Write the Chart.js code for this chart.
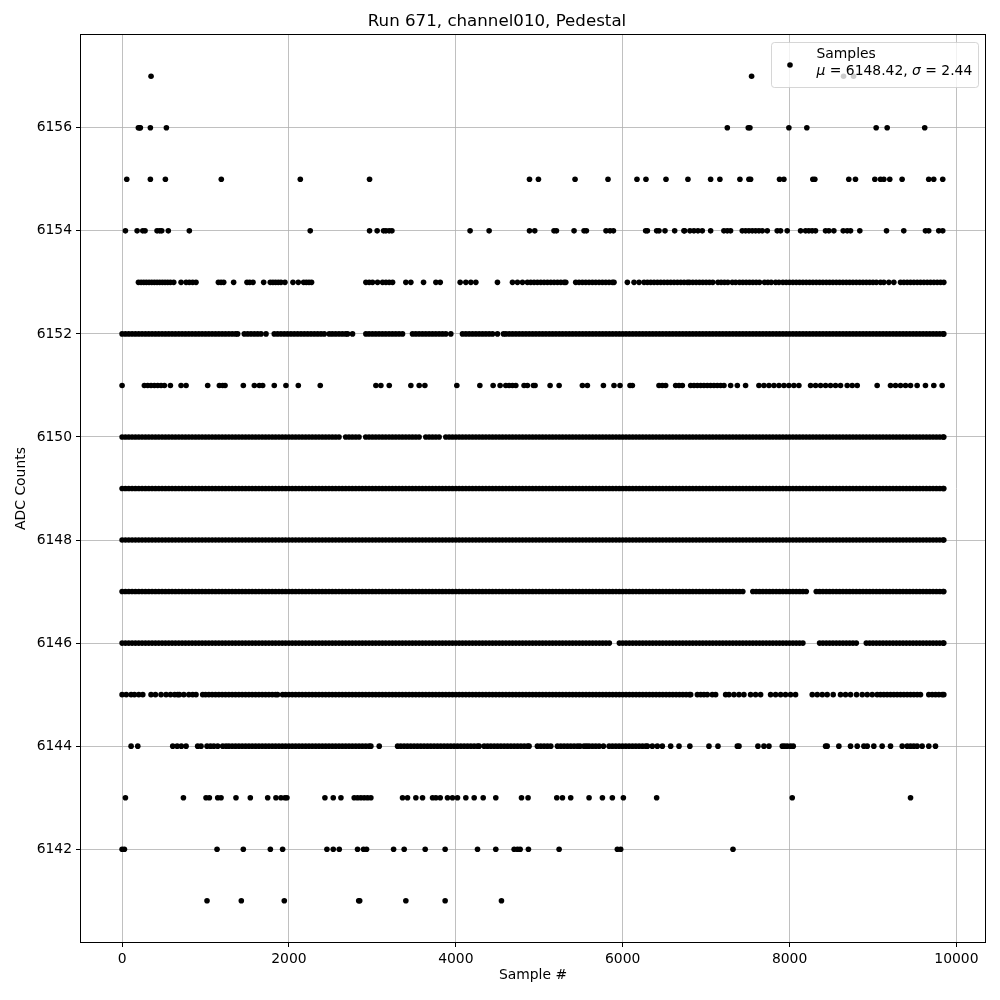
<!DOCTYPE html>
<html>
<head>
<meta charset="utf-8">
<script src="https://cdn.jsdelivr.net/npm/chart.js@4"></script>
<style>
  html, body { margin: 0; padding: 0; background: #fff; }
  #plot { display: block; }
</style>
</head>
<body>
<canvas id="plot" width="1000" height="1000" style="width:1000px;height:1000px"></canvas>
<script>
const title = 'Run 671, channel010, Pedestal'
const xTitle = 'Sample #'
const yTitle = 'ADC Counts'
const xTicks = [0, 2000, 4000, 6000, 8000, 10000]
const yTicks = [6142, 6144, 6146, 6148, 6150, 6152, 6154, 6156]
const legendName = 'Samples'
const muValue = '6148.42'
const sigmaValue = '2.44'

// sample numbers where a dot shows on each ADC level
const adc6157 = [347, 7545, 8647, 8767]
const adc6156 = [195, 210, 219, 339, 531, 7254, 7505, 7525, 7992, 8207, 9038, 9170, 9620]
const adc6155 = [56, 339, 519, 1189, 2136, 2966, 4883, 4990, 5429, 5824, 6171, 6279, 6519, 6782, 7054, 7165, 7405, 7513, 7533, 7880, 7932, 8279, 8303, 8710, 8790, 9022, 9090, 9130, 9201, 9349, 9668, 9728, 9836]
const adc6154 = [40, 180, 248, 275, 419, 451, 475, 554, 806, 2255, 2966, 3057, 3134, 3162, 3201, 3234, 4171, 4399, 4883, 4946, 5177, 5206, 5417, 5537, 5565, 5800, 5848, 5889, 6275, 6296, 6407, 6435, 6507, 6623, 6734, 6742, 6806, 6854, 6902, 6954, 7054, 7213, 7254, 7293, 7433, 7473, 7513, 7553, 7593, 7633, 7673, 7733, 7852, 7892, 7972, 8132, 8192, 8231, 8271, 8311, 8431, 8471, 8531, 8643, 8691, 8731, 8842, 9162, 9369, 9629, 9668, 9788, 9836]
const adc6153 = [196, 228, 260, 291, 323, 355, 387, 419, 451, 483, 515, 547, 579, 619, 707, 767, 806, 846, 886, 1154, 1186, 1218, 1337, 1497, 1529, 1569, 1697, 1776, 1808, 1840, 1872, 1904, 1952, 2048, 2112, 2176, 2208, 2240, 2271, 2922, 2962, 3002, 3062, 3122, 3162, 3202, 3242,
  3401, 3461, 3613, 3761, 3813, 4052, 4120, 4180, 4240, 4499, 4679, 4739, 4799, 4858, 4898, 4938, 4978, 5018, 5058, 5098, 5138, 5178, 5218, 5258, 5298, 5318,
  5437, 5477, 5517, 5557, 5597, 5637, 5677, 5717, 5757, 5797, 5837, 5877, 5896, 6056, 6136, 6196, 6256, 6296, 6336, 6376, 6416, 6456, 6496, 6536, 6576, 6616, 6656, 6696, 6736, 6776,
  6800, 6840, 6880, 6920, 6960, 7000, 7040, 7080, 7142, 7180, 7220, 7260, 7314, 7354, 7400, 7440, 7480, 7520, 7560, 7600, 7640, 7700, 7740, 7780, 7833,
  7873, 7920, 7960, 8000, 8040, 8080, 8120, 8160, 8200, 8240, 8280, 8320, 8360, 8400, 8440, 8480, 8520, 8560, 8600, 8640, 8680, 8720, 8760, 8800, 8840, 8880, 8920, 8960, 9000, 9040, 9090,
  9130, 9190, 9250, 9330, 9370, 9410, 9450, 9490, 9530, 9570, 9610, 9650, 9690, 9730, 9770, 9810, 9849]
const adc6152 = [0, 40, 80, 120, 160, 200, 240, 280, 320, 360, 400, 440, 480, 520, 560, 600, 640, 680, 720, 760, 800, 840, 880, 920, 960,
  1000, 1040, 1080, 1120, 1160, 1200, 1240, 1280, 1320, 1360, 1385, 1465, 1505, 1545, 1585, 1625, 1665, 1725, 1824, 1864, 1904, 1944, 1984,
  2024, 2064, 2104, 2144, 2184, 2224, 2264, 2304, 2344, 2384, 2423, 2483, 2520, 2560, 2600, 2640, 2680, 2703, 2762, 2922, 2960,
  3000, 3040, 3080, 3120, 3160, 3200, 3240, 3280, 3320, 3361, 3481, 3520, 3560, 3600, 3640, 3680, 3720, 3760, 3800, 3840, 3880, 3940,
  4080, 4120, 4160, 4200, 4240, 4280, 4320, 4360, 4400, 4440, 4499, 4571, 4600, 4640, 4680, 4720, 4760, 4800, 4840, 4880, 4920, 4960,
  5000, 5040, 5080, 5120, 5160, 5200, 5240, 5280, 5320, 5360, 5400, 5440, 5480, 5520, 5560, 5600, 5640, 5680, 5720, 5760, 5800, 5840, 5880, 5920, 5960,
  6000, 6040, 6080, 6120, 6160, 6200, 6240, 6280, 6320, 6360, 6400, 6440, 6480, 6520, 6560, 6600, 6640, 6680, 6720, 6760, 6800, 6840, 6880, 6920, 6960,
  7000, 7040, 7080, 7120, 7160, 7200, 7240, 7280, 7320, 7360, 7400, 7440, 7480, 7520, 7560, 7600, 7640, 7680, 7720, 7760, 7800, 7840, 7880, 7920, 7960,
  8000, 8040, 8080, 8120, 8160, 8200, 8240, 8280, 8320, 8360, 8400, 8440, 8480, 8520, 8560, 8600, 8640, 8680, 8720, 8760, 8800, 8840, 8880, 8920, 8960,
  9000, 9040, 9080, 9120, 9160, 9200, 9240, 9280, 9320, 9360, 9400, 9440, 9480, 9520, 9560, 9600, 9640, 9680, 9720, 9760, 9800, 9840, 9849]
const adc6151 = [0, 267, 307, 347, 387, 427, 467, 507, 579, 707, 767, 1026, 1166, 1206, 1234, 1453, 1585, 1645, 1685, 1824, 1964, 2112, 2375, 3042, 3102, 3202, 3461, 3561, 3629, 4012, 4288, 4447, 4531, 4599, 4639, 4679, 4719, 4818, 4858, 4930, 4950, 5130, 5238, 5517, 5577, 5769, 5896, 5968, 6088, 6116, 6435, 6475, 6515, 6635, 6675, 6715,
  6815, 6855, 6895, 6935, 6974, 7014, 7054, 7094, 7134, 7174, 7214, 7294, 7374, 7473, 7633, 7693, 7753, 7813, 7873, 7933, 7992, 8052, 8112, 8252, 8312, 8372, 8432, 8491, 8551, 8611, 8691, 8751, 8811, 9050, 9210, 9270, 9330, 9390, 9450, 9529, 9629, 9729, 9829]
const adc6150 = [0, 40, 80, 120, 160, 200, 240, 280, 320, 360, 400, 440, 480, 520, 560, 600, 640, 680, 720, 760, 800, 840, 880, 920, 960,
  1000, 1040, 1080, 1120, 1160, 1200, 1240, 1280, 1320, 1360, 1400, 1440, 1480, 1520, 1560, 1600, 1640, 1680, 1720, 1760, 1800, 1840, 1880, 1920, 1960,
  2000, 2040, 2080, 2120, 2160, 2200, 2240, 2280, 2320, 2360, 2400, 2440, 2480, 2520, 2560, 2600, 2680, 2720, 2760, 2800, 2840, 2920, 2960,
  3000, 3040, 3080, 3120, 3160, 3200, 3240, 3280, 3320, 3360, 3400, 3440, 3480, 3520, 3560, 3640, 3680, 3720, 3760, 3800, 3880, 3920, 3960,
  4000, 4040, 4080, 4120, 4160, 4200, 4240, 4280, 4320, 4360, 4400, 4440, 4480, 4520, 4560, 4600, 4640, 4680, 4720, 4760, 4800, 4840, 4880, 4920, 4960,
  5000, 5040, 5080, 5120, 5160, 5200, 5240, 5280, 5320, 5360, 5400, 5440, 5480, 5520, 5560, 5600, 5640, 5680, 5720, 5760, 5800, 5840, 5880, 5920, 5960,
  6000, 6040, 6080, 6120, 6160, 6200, 6240, 6280, 6320, 6360, 6400, 6440, 6480, 6520, 6560, 6600, 6640, 6680, 6720, 6760, 6800, 6840, 6880, 6920, 6960,
  7000, 7040, 7080, 7120, 7160, 7200, 7240, 7280, 7320, 7360, 7400, 7440, 7480, 7520, 7560, 7600, 7640, 7680, 7720, 7760, 7800, 7840, 7880, 7920, 7960,
  8000, 8040, 8080, 8120, 8160, 8200, 8240, 8280, 8320, 8360, 8400, 8440, 8480, 8520, 8560, 8600, 8640, 8680, 8720, 8760, 8800, 8840, 8880, 8920, 8960,
  9000, 9040, 9080, 9120, 9160, 9200, 9240, 9280, 9320, 9360, 9400, 9440, 9480, 9520, 9560, 9600, 9640, 9680, 9720, 9760, 9800, 9840, 9849]
const adc6149 = [0, 40, 80, 120, 160, 200, 240, 280, 320, 360, 400, 440, 480, 520, 560, 600, 640, 680, 720, 760, 800, 840, 880, 920, 960,
  1000, 1040, 1080, 1120, 1160, 1200, 1240, 1280, 1320, 1360, 1400, 1440, 1480, 1520, 1560, 1600, 1640, 1680, 1720, 1760, 1800, 1840, 1880, 1920, 1960,
  2000, 2040, 2080, 2120, 2160, 2200, 2240, 2280, 2320, 2360, 2400, 2440, 2480, 2520, 2560, 2600, 2640, 2680, 2720, 2760, 2800, 2840, 2880, 2920, 2960,
  3000, 3040, 3080, 3120, 3160, 3200, 3240, 3280, 3320, 3360, 3400, 3440, 3480, 3520, 3560, 3600, 3640, 3680, 3720, 3760, 3800, 3840, 3880, 3920, 3960,
  4000, 4040, 4080, 4120, 4160, 4200, 4240, 4280, 4320, 4360, 4400, 4440, 4480, 4520, 4560, 4600, 4640, 4680, 4720, 4760, 4800, 4840, 4880, 4920, 4960,
  5000, 5040, 5080, 5120, 5160, 5200, 5240, 5280, 5320, 5360, 5400, 5440, 5480, 5520, 5560, 5600, 5640, 5680, 5720, 5760, 5800, 5840, 5880, 5920, 5960,
  6000, 6040, 6080, 6120, 6160, 6200, 6240, 6280, 6320, 6360, 6400, 6440, 6480, 6520, 6560, 6600, 6640, 6680, 6720, 6760, 6800, 6840, 6880, 6920, 6960,
  7000, 7040, 7080, 7120, 7160, 7200, 7240, 7280, 7320, 7360, 7400, 7440, 7480, 7520, 7560, 7600, 7640, 7680, 7720, 7760, 7800, 7840, 7880, 7920, 7960,
  8000, 8040, 8080, 8120, 8160, 8200, 8240, 8280, 8320, 8360, 8400, 8440, 8480, 8520, 8560, 8600, 8640, 8680, 8720, 8760, 8800, 8840, 8880, 8920, 8960,
  9000, 9040, 9080, 9120, 9160, 9200, 9240, 9280, 9320, 9360, 9400, 9440, 9480, 9520, 9560, 9600, 9640, 9680, 9720, 9760, 9800, 9840, 9849]
const adc6148 = [0, 40, 80, 120, 160, 200, 240, 280, 320, 360, 400, 440, 480, 520, 560, 600, 640, 680, 720, 760, 800, 840, 880, 920, 960,
  1000, 1040, 1080, 1120, 1160, 1200, 1240, 1280, 1320, 1360, 1400, 1440, 1480, 1520, 1560, 1600, 1640, 1680, 1720, 1760, 1800, 1840, 1880, 1920, 1960,
  2000, 2040, 2080, 2120, 2160, 2200, 2240, 2280, 2320, 2360, 2400, 2440, 2480, 2520, 2560, 2600, 2640, 2680, 2720, 2760, 2800, 2840, 2880, 2920, 2960,
  3000, 3040, 3080, 3120, 3160, 3200, 3240, 3280, 3320, 3360, 3400, 3440, 3480, 3520, 3560, 3600, 3640, 3680, 3720, 3760, 3800, 3840, 3880, 3920, 3960,
  4000, 4040, 4080, 4120, 4160, 4200, 4240, 4280, 4320, 4360, 4400, 4440, 4480, 4520, 4560, 4600, 4640, 4680, 4720, 4760, 4800, 4840, 4880, 4920, 4960,
  5000, 5040, 5080, 5120, 5160, 5200, 5240, 5280, 5320, 5360, 5400, 5440, 5480, 5520, 5560, 5600, 5640, 5680, 5720, 5760, 5800, 5840, 5880, 5920, 5960,
  6000, 6040, 6080, 6120, 6160, 6200, 6240, 6280, 6320, 6360, 6400, 6440, 6480, 6520, 6560, 6600, 6640, 6680, 6720, 6760, 6800, 6840, 6880, 6920, 6960,
  7000, 7040, 7080, 7120, 7160, 7200, 7240, 7280, 7320, 7360, 7400, 7440, 7480, 7520, 7560, 7600, 7640, 7680, 7720, 7760, 7800, 7840, 7880, 7920, 7960,
  8000, 8040, 8080, 8120, 8160, 8200, 8240, 8280, 8320, 8360, 8400, 8440, 8480, 8520, 8560, 8600, 8640, 8680, 8720, 8760, 8800, 8840, 8880, 8920, 8960,
  9000, 9040, 9080, 9120, 9160, 9200, 9240, 9280, 9320, 9360, 9400, 9440, 9480, 9520, 9560, 9600, 9640, 9680, 9720, 9760, 9800, 9840, 9849]
const adc6147 = [0, 40, 80, 120, 160, 200, 240, 280, 320, 360, 400, 440, 480, 520, 560, 600, 640, 680, 720, 760, 800, 840, 880, 920, 960,
  1000, 1040, 1080, 1120, 1160, 1200, 1240, 1280, 1320, 1360, 1400, 1440, 1480, 1520, 1560, 1600, 1640, 1680, 1720, 1760, 1800, 1840, 1880, 1920, 1960,
  2000, 2040, 2080, 2120, 2160, 2200, 2240, 2280, 2320, 2360, 2400, 2440, 2480, 2520, 2560, 2600, 2640, 2680, 2720, 2760, 2800, 2840, 2880, 2920, 2960,
  3000, 3040, 3080, 3120, 3160, 3200, 3240, 3280, 3320, 3360, 3400, 3440, 3480, 3520, 3560, 3600, 3640, 3680, 3720, 3760, 3800, 3840, 3880, 3920, 3960,
  4000, 4040, 4080, 4120, 4160, 4200, 4240, 4280, 4320, 4360, 4400, 4440, 4480, 4520, 4560, 4600, 4640, 4680, 4720, 4760, 4800, 4840, 4880, 4920, 4960,
  5000, 5040, 5080, 5120, 5160, 5200, 5240, 5280, 5320, 5360, 5400, 5440, 5480, 5520, 5560, 5600, 5640, 5680, 5720, 5760, 5800, 5840, 5880, 5920, 5960,
  6000, 6040, 6080, 6120, 6160, 6200, 6240, 6280, 6320, 6360, 6400, 6440, 6480, 6520, 6560, 6600, 6640, 6680, 6720, 6760, 6800, 6840, 6880, 6920, 6960,
  7000, 7040, 7080, 7120, 7160, 7200, 7240, 7280, 7320, 7360, 7400, 7440, 7560, 7600, 7640, 7680, 7720, 7760, 7800, 7840, 7880, 7920, 7960,
  8000, 8040, 8080, 8120, 8160, 8200, 8320, 8360, 8400, 8440, 8480, 8520, 8560, 8600, 8640, 8680, 8720, 8760, 8800, 8840, 8880, 8920, 8960,
  9000, 9040, 9080, 9120, 9160, 9200, 9240, 9280, 9320, 9360, 9400, 9440, 9480, 9520, 9560, 9600, 9640, 9680, 9720, 9760, 9800, 9840, 9849]
const adc6146 = [0, 40, 80, 120, 160, 200, 240, 280, 320, 360, 400, 440, 480, 520, 560, 600, 640, 680, 720, 760, 800, 840, 880, 920, 960,
  1000, 1040, 1080, 1120, 1160, 1200, 1240, 1280, 1320, 1360, 1400, 1440, 1480, 1520, 1560, 1600, 1640, 1680, 1720, 1760, 1800, 1840, 1880, 1920, 1960,
  2000, 2040, 2080, 2120, 2160, 2200, 2240, 2280, 2320, 2360, 2400, 2440, 2480, 2520, 2560, 2600, 2640, 2680, 2720, 2760, 2800, 2840, 2880, 2920, 2960,
  3000, 3040, 3080, 3120, 3160, 3200, 3240, 3280, 3320, 3360, 3400, 3440, 3480, 3520, 3560, 3600, 3640, 3680, 3720, 3760, 3800, 3840, 3880, 3920, 3960,
  4000, 4040, 4080, 4120, 4160, 4200, 4240, 4280, 4320, 4360, 4400, 4440, 4480, 4520, 4560, 4600, 4640, 4680, 4720, 4760, 4800, 4840, 4880, 4920, 4960,
  5000, 5040, 5080, 5120, 5160, 5200, 5240, 5280, 5320, 5360, 5400, 5440, 5480, 5520, 5560, 5600, 5640, 5680, 5720, 5760, 5800, 5840, 5960,
  6000, 6040, 6080, 6120, 6160, 6200, 6240, 6280, 6320, 6360, 6400, 6440, 6480, 6520, 6560, 6600, 6640, 6680, 6720, 6760, 6800, 6840, 6880, 6920, 6960,
  7000, 7040, 7080, 7120, 7160, 7200, 7240, 7280, 7320, 7360, 7400, 7440, 7480, 7520, 7560, 7600, 7640, 7680, 7720, 7760, 7800, 7840, 7880, 7920, 7960,
  8000, 8040, 8080, 8120, 8160, 8360, 8400, 8440, 8480, 8520, 8560, 8600, 8640, 8680, 8720, 8760, 8800, 8920, 8960,
  9000, 9040, 9080, 9120, 9160, 9200, 9240, 9280, 9320, 9360, 9400, 9440, 9480, 9520, 9560, 9600, 9640, 9680, 9720, 9760, 9800, 9840, 9849]
const adc6145 = [0, 50, 108, 148, 200, 248, 347, 400, 467, 527, 580, 630, 667, 687, 740, 800, 846, 886, 966,
  1000, 1040, 1080, 1120, 1160, 1200, 1240, 1280, 1320, 1360, 1400, 1440, 1480, 1520, 1560, 1600, 1640, 1680, 1720, 1760, 1800, 1840, 1864, 1924, 1960,
  2000, 2040, 2080, 2120, 2160, 2200, 2240, 2280, 2320, 2360, 2400, 2440, 2480, 2520, 2560, 2600, 2640, 2680, 2720, 2760, 2800, 2840, 2880, 2920, 2960,
  3000, 3040, 3080, 3120, 3160, 3200, 3240, 3280, 3320, 3360, 3400, 3440, 3480, 3520, 3560, 3600, 3640, 3680, 3720, 3760, 3800, 3840, 3880, 3920, 3960,
  4000, 4040, 4080, 4120, 4160, 4200, 4240, 4280, 4320, 4360, 4400, 4440, 4480, 4520, 4560, 4600, 4640, 4680, 4720, 4760, 4800, 4840, 4880, 4920, 4960,
  5000, 5040, 5080, 5120, 5160, 5200, 5240, 5280, 5320, 5360, 5400, 5440, 5480, 5520, 5560, 5600, 5640, 5680, 5720, 5760, 5800, 5840, 5880, 5920, 5960,
  6000, 6040, 6080, 6120, 6160, 6200, 6240, 6280, 6320, 6360, 6400, 6440, 6480, 6520, 6560, 6600, 6640, 6680, 6720, 6760, 6800, 6815,
  6895, 6935, 6974, 7014, 7074, 7114, 7234, 7274, 7334, 7394, 7453, 7533, 7593, 7653, 7773, 7833, 7893, 7952, 8012, 8072,
  8272, 8332, 8392, 8451, 8523, 8611, 8671, 8731, 8803, 8871, 8931, 8991, 9050, 9090, 9130, 9170, 9210, 9250, 9290, 9330, 9370, 9410, 9450, 9490, 9530, 9569,
  9669, 9710, 9750, 9790, 9830, 9849]
const adc6144 = [108, 188, 607, 660, 710, 767, 906, 946, 1018, 1060, 1100, 1146, 1206, 1246,
  1280, 1320, 1360, 1400, 1440, 1480, 1520, 1560, 1600, 1640, 1680, 1720, 1760, 1800, 1840, 1880, 1920, 1960,
  2000, 2040, 2080, 2120, 2160, 2200, 2240, 2280, 2320, 2360, 2400, 2440, 2480, 2520, 2560, 2600, 2640, 2680, 2720, 2760, 2800, 2840, 2880, 2920, 2960, 2982, 3082,
  3302, 3340, 3380, 3420, 3460, 3500, 3540, 3580, 3620, 3660, 3700, 3740, 3780, 3820, 3860, 3900, 3940, 3980,
  4020, 4060, 4100, 4140, 4180, 4220, 4260, 4280, 4340, 4380, 4420, 4460, 4500, 4540, 4580, 4620, 4660, 4700, 4740, 4780, 4820, 4860, 4878,
  4978, 5018, 5058, 5098, 5138, 5218, 5258, 5298, 5338, 5378, 5418, 5458, 5489, 5537, 5567, 5597, 5637, 5677, 5717, 5769,
  5837, 5877, 5917, 5957, 5997, 6037, 6077, 6117, 6157, 6197, 6237, 6277, 6296, 6355, 6415, 6475, 6575, 6675, 6805,
  7034, 7142, 7374, 7394, 7621, 7693, 7753, 7913, 7940, 7972, 8012, 8044, 8432, 8451, 8591, 8731, 8811, 8891, 8931, 9010, 9110, 9210, 9350, 9410, 9450, 9489, 9529, 9589, 9669, 9749]
const adc6143 = [40, 735, 1006, 1046, 1146, 1186, 1365, 1537, 1745, 1844, 1904, 1952, 1976, 2431, 2531, 2623, 2782, 2822, 2862, 2902, 2942, 2982, 3361, 3421, 3521, 3601, 3721, 3761, 3813, 3900, 3960, 4020, 4120, 4220, 4328, 4479, 4787, 4866, 5210, 5278, 5377, 5597, 5757, 5876, 6008, 6407, 8032, 9450]
const adc6142 = [0, 28, 1138, 1453, 1777, 1924, 2455, 2531, 2603, 2822, 2894, 2930, 3254, 3381, 3633, 3872, 4260, 4479, 4699, 4739, 4771, 4870, 5238, 5936, 5976, 7322]
const adc6141 = [1018, 1429, 1944, 2836, 2848, 3401, 3872, 4547]

const levels = [6141, 6142, 6143, 6144, 6145, 6146, 6147, 6148, 6149, 6150, 6151, 6152, 6153, 6154, 6155, 6156, 6157]
const samplesByLevel = [adc6141, adc6142, adc6143, adc6144, adc6145, adc6146, adc6147, adc6148, adc6149, adc6150, adc6151, adc6152, adc6153, adc6154, adc6155, adc6156, adc6157]

const points = []
levels.forEach((lvl, i) => {
  samplesByLevel[i].forEach(s => points.push({ x: s, y: lvl }))
})

const font = '"DejaVu Sans", "Liberation Sans", sans-serif'
const dotRadius = 2.8

// frame round the plot area (matplotlib draws all four spines)
const framePlugin = {
  id: 'frame',
  afterDraw(chart) {
    const { ctx, chartArea: a } = chart
    ctx.save()
    ctx.strokeStyle = '#000'
    ctx.lineWidth = 1
    ctx.strokeRect(a.left - 0.5, a.top - 0.5, a.right - a.left + 1, a.bottom - a.top + 1)
    ctx.restore()
  }
}

// legend box in the upper right, two text lines
const legendPlugin = {
  id: 'mplLegend',
  afterDraw(chart) {
    const ctx = chart.ctx
    ctx.save()
    ctx.beginPath()
    ctx.roundRect(771.5, 42.5, 207, 45, 3)
    ctx.fillStyle = 'rgba(255,255,255,0.8)'
    ctx.fill()
    ctx.strokeStyle = 'rgba(204,204,204,0.8)'
    ctx.lineWidth = 1
    ctx.stroke()

    ctx.beginPath()
    ctx.arc(790, 65, dotRadius, 0, Math.PI * 2)
    ctx.fillStyle = '#000'
    ctx.fill()

    ctx.fillStyle = '#000'
    ctx.textBaseline = 'middle'
    ctx.textAlign = 'left'
    ctx.font = `13.9px ${font}`
    ctx.fillText(legendName, 816.5, 54)

    const parts = [
      ['\u03bc', true], [' = ' + muValue + ', ', false],
      ['\u03c3', true], [' = ' + sigmaValue, false]
    ]
    let x = 816.5
    parts.forEach(([txt, it]) => {
      ctx.font = `${it ? 'italic ' : ''}13.9px ${font}`
      ctx.fillText(txt, x, 71.5)
      x += ctx.measureText(txt).width
    })
    ctx.restore()
  }
}

const ctx = document.getElementById('plot').getContext('2d')

new Chart(ctx, {
  type: 'scatter',
  data: {
    datasets: [{
      label: legendName,
      data: points,
      pointRadius: dotRadius,
      pointHoverRadius: dotRadius,
      pointBorderWidth: 0,
      pointBackgroundColor: '#000',
      borderColor: '#000',
      showLine: false
    }]
  },
  options: {
    responsive: false,
    devicePixelRatio: 1,
    animation: false,
    events: [],
    layout: {
      padding: { left: 9, right: 15, top: 0, bottom: 12 }
    },
    plugins: {
      legend: { display: false },
      tooltip: { enabled: false },
      title: {
        display: true,
        text: title,
        color: '#000',
        font: { family: font, size: 16.67, weight: 'normal' },
        padding: { top: 12, bottom: 3 }
      }
    },
    scales: {
      x: {
        type: 'linear',
        min: -492.5,
        max: 10342.5,
        afterBuildTicks: s => { s.ticks = xTicks.map(v => ({ value: v })) },
        afterFit: s => { s.height = 46 },
        border: { display: false },
        grid: { color: '#b0b0b0', lineWidth: 0.8, tickColor: '#000', tickLength: 5, tickWidth: 1 },
        ticks: {
          color: '#000',
          font: { family: font, size: 13.9 },
          padding: 4,
          maxRotation: 0,
          autoSkip: false,
          callback: v => String(v)
        },
        title: {
          display: true,
          text: xTitle,
          color: '#000',
          font: { family: font, size: 13.9 },
          padding: { top: 4, bottom: 4 }
        }
      },
      y: {
        type: 'linear',
        min: 6140.2,
        max: 6157.8,
        afterBuildTicks: s => { s.ticks = yTicks.map(v => ({ value: v })) },
        afterFit: s => { s.width = 72 },
        border: { display: false },
        grid: { color: '#b0b0b0', lineWidth: 0.8, tickColor: '#000', tickLength: 5, tickWidth: 1 },
        ticks: {
          color: '#000',
          font: { family: font, size: 13.9 },
          padding: 4,
          autoSkip: false,
          callback: v => String(v)
        },
        title: {
          display: true,
          text: yTitle,
          color: '#000',
          font: { family: font, size: 13.9 },
          padding: { top: 4, bottom: 4 }
        }
      }
    }
  },
  plugins: [framePlugin, legendPlugin]
})
</script>
</body>
</html>
